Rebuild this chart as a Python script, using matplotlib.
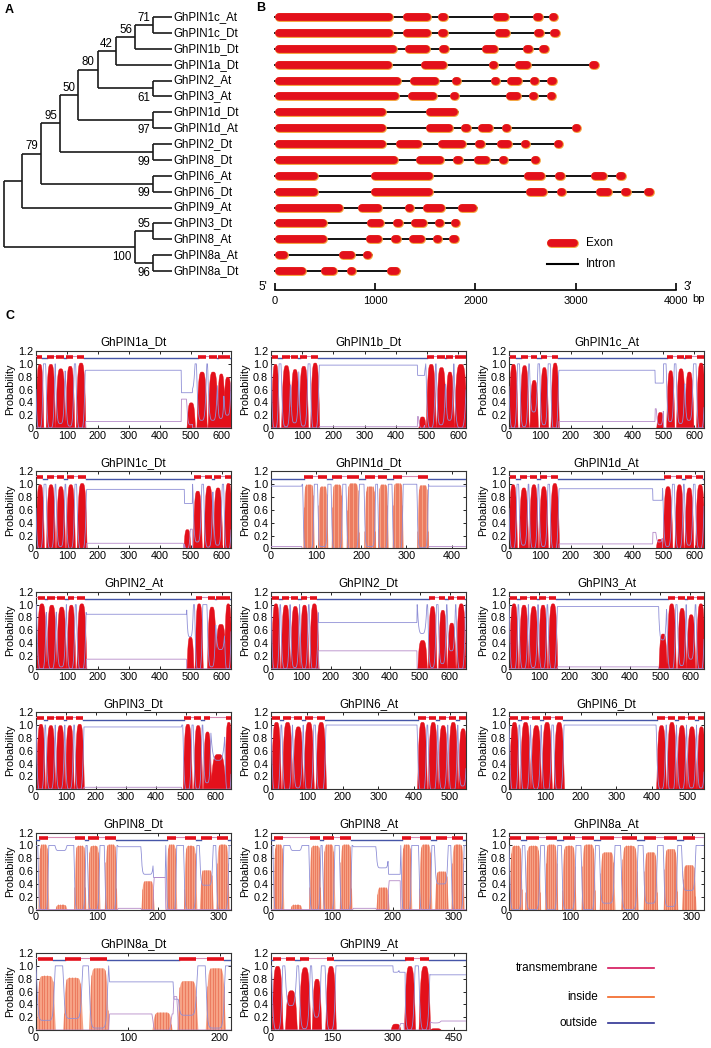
import numpy as np
import matplotlib
matplotlib.use('Agg')
import matplotlib.pyplot as plt
from matplotlib.lines import Line2D

plt.rcParams['font.family'] = ['Liberation Sans', 'DejaVu Sans']

W, H = 711, 1048

# ---------------- panel A: tree ----------------
leaves = ['GhPIN1c_At', 'GhPIN1c_Dt', 'GhPIN1b_Dt', 'GhPIN1a_Dt', 'GhPIN2_At',
          'GhPIN3_At', 'GhPIN1d_Dt', 'GhPIN1d_At', 'GhPIN2_Dt', 'GhPIN8_Dt',
          'GhPIN6_At', 'GhPIN6_Dt', 'GhPIN9_At', 'GhPIN3_Dt', 'GhPIN8_At',
          'GhPIN8a_At', 'GhPIN8a_Dt']
# (name, child1, child2, depth, bootstrap, label side)
nodes = [
    ('n71', 'GhPIN1c_At', 'GhPIN1c_Dt', 153.3, '71', 'above'),
    ('n56', 'n71', 'GhPIN1b_Dt', 135.0, '56', 'above'),
    ('n42', 'n56', 'GhPIN1a_Dt', 116.0, '42', 'above'),
    ('n61', 'GhPIN2_At', 'GhPIN3_At', 153.3, '61', 'below'),
    ('n80', 'n42', 'n61', 97.7, '80', 'above'),
    ('n97', 'GhPIN1d_Dt', 'GhPIN1d_At', 153.3, '97', 'below'),
    ('n50', 'n80', 'n97', 78.3, '50', 'above'),
    ('n99a', 'GhPIN2_Dt', 'GhPIN8_Dt', 153.3, '99', 'below'),
    ('n95a', 'n50', 'n99a', 60.0, '95', 'above'),
    ('n99b', 'GhPIN6_At', 'GhPIN6_Dt', 153.3, '99', 'below'),
    ('n79', 'n95a', 'n99b', 41.0, '79', 'above'),
    ('nG', 'n79', 'GhPIN9_At', 22.3, '', ''),
    ('n95b', 'GhPIN3_Dt', 'GhPIN8_At', 153.3, '95', 'above'),
    ('n96', 'GhPIN8a_At', 'GhPIN8a_Dt', 153.3, '96', 'below'),
    ('n100', 'n95b', 'n96', 135.0, '100', 'below'),
    ('root', 'nG', 'n100', 4.3, '', ''),
]
leaf_depth = 172

# ---------------- panel B: exons in bp, same order as leaves ----------------
exons = [
    [(0, 1181), (1281, 1554), (1634, 1714), (2179, 2332), (2585, 2661), (2751, 2811)],
    [(0, 1181), (1281, 1554), (1634, 1714), (2192, 2345), (2598, 2668), (2764, 2828)],
    [(0, 1214), (1294, 1547), (1643, 1727), (2069, 2222), (2485, 2562), (2652, 2718)],
    [(0, 1168), (1454, 1713), (2139, 2219), (2399, 2558), (3144, 3220)],
    [(0, 1261), (1347, 1640), (1770, 1853), (2169, 2236), (2312, 2465), (2552, 2628), (2731, 2795)],
    [(0, 1238), (1324, 1620), (1750, 1830), (2302, 2459), (2542, 2615), (2725, 2791)],
    [(0, 1105), (1507, 1823)],
    [(0, 1105), (1504, 1772), (1866, 1946), (2023, 2179), (2276, 2346), (2978, 3037)],
    [(0, 1105), (1204, 1471), (1630, 1906), (2006, 2089), (2212, 2365), (2462, 2539), (2795, 2861)],
    [(0, 1231), (1407, 1683), (1783, 1866), (1989, 2146), (2242, 2319), (2565, 2632)],
    [(0, 429), (958, 1574), (2485, 2698), (2801, 2884), (3151, 3310), (3413, 3493)],
    [(0, 429), (958, 1574), (2502, 2711), (2814, 2901), (3204, 3360), (3463, 3543), (3700, 3766)],
    [(0, 675), (832, 1071), (1304, 1384), (1480, 1697), (1830, 2016)],
    [(0, 516), (918, 1088), (1188, 1271), (1357, 1514), (1604, 1677), (1767, 1833)],
    [(0, 516), (905, 1071), (1168, 1248), (1341, 1497), (1584, 1657), (1750, 1817)],
    [(0, 126), (639, 798), (882, 968)],
    [(0, 309), (456, 622), (732, 798), (1118, 1251)],
]
bp_ticks = [0, 1000, 2000, 3000, 4000]

# ---------------- panel C: TMHMM profiles ----------------
titles = ['GhPIN1a_Dt', 'GhPIN1b_Dt', 'GhPIN1c_At', 'GhPIN1c_Dt', 'GhPIN1d_Dt', 'GhPIN1d_At',
          'GhPIN2_At', 'GhPIN2_Dt', 'GhPIN3_At', 'GhPIN3_Dt', 'GhPIN6_At', 'GhPIN6_Dt',
          'GhPIN8_Dt', 'GhPIN8_At', 'GhPIN8a_At', 'GhPIN8a_Dt', 'GhPIN9_At']
lengths = [630, 625, 632, 630, 432, 630, 630, 655, 645, 650, 545, 545, 320, 320, 320, 212, 480]
tick_steps = [100] * 16 + [150]
# helices: (start, end, peak probability, predicted)
tm_segments = [
    [(2, 20, 1.0, 1), (35, 58, 1.0, 1), (66, 91, 0.93, 1), (98, 120, 0.97, 1), (132, 156, 1.02, 1),
     (490, 510, 0.4, 0), (522, 548, 0.88, 1), (558, 584, 0.88, 1), (588, 606, 0.85, 1), (608, 628, 0.8, 1)],
    [(4, 22, 1.0, 1), (36, 60, 0.98, 1), (65, 86, 0.92, 1), (92, 115, 0.97, 1), (129, 151, 1.02, 1),
     (476, 492, 0.18, 0), (500, 524, 1.0, 1), (533, 557, 0.95, 1), (562, 582, 0.88, 1), (590, 624, 1.0, 1)],
    [(2, 24, 1.0, 1), (38, 60, 0.98, 1), (70, 90, 0.75, 1), (103, 123, 0.95, 1), (138, 158, 1.02, 1),
     (481, 497, 0.25, 0), (513, 532, 0.9, 1), (545, 567, 0.93, 1), (572, 594, 0.88, 1), (610, 632, 1.02, 1)],
    [(2, 22, 1.0, 1), (36, 58, 1.0, 1), (68, 90, 0.97, 1), (100, 122, 1.0, 1), (135, 160, 1.02, 1),
     (480, 495, 0.3, 0), (510, 532, 0.9, 1), (545, 568, 0.98, 1), (575, 598, 0.95, 1), (610, 630, 1.02, 1)],
    [(72, 94, 1.0, 1), (105, 124, 0.97, 1), (135, 157, 1.0, 1), (168, 194, 1.02, 1),
     (208, 230, 0.97, 1), (238, 258, 1.0, 1), (270, 291, 1.02, 1), (325, 347, 0.99, 1)],
    [(2, 22, 1.0, 1), (35, 58, 0.95, 1), (68, 90, 1.0, 1), (100, 122, 0.97, 1), (135, 158, 1.02, 1),
     (478, 494, 0.15, 0), (500, 524, 0.97, 1), (538, 560, 1.0, 1), (570, 592, 0.95, 1), (605, 628, 1.0, 1)],
    [(5, 30, 1.02, 1), (37, 62, 1.0, 1), (69, 94, 0.97, 1), (102, 123, 1.0, 1), (134, 159, 1.02, 1),
     (490, 505, 0.5, 0), (516, 535, 1.02, 1), (556, 578, 0.97, 1), (582, 610, 0.7, 1), (611, 628, 1.02, 1)],
    [(4, 26, 1.02, 1), (36, 60, 1.0, 1), (68, 92, 0.98, 1), (100, 122, 1.0, 1), (132, 156, 1.02, 1),
     (495, 520, 0.45, 0), (530, 552, 0.98, 1), (565, 586, 0.92, 1), (595, 616, 0.72, 1), (625, 650, 1.02, 1)],
    [(4, 26, 1.02, 1), (36, 60, 1.0, 1), (68, 92, 0.98, 1), (100, 122, 1.0, 1), (132, 156, 1.02, 1),
     (498, 518, 0.55, 0), (525, 548, 1.02, 1), (560, 582, 0.95, 1), (590, 612, 0.85, 1), (622, 644, 1.02, 1)],
    [(4, 26, 1.02, 1), (36, 60, 1.0, 1), (68, 92, 1.0, 1), (100, 122, 1.0, 1), (132, 156, 1.02, 1),
     (493, 516, 1.02, 1), (528, 550, 1.0, 1), (560, 580, 0.9, 1), (585, 628, 0.55, 0), (632, 650, 1.05, 1)],
    [(4, 24, 1.05, 1), (34, 56, 1.05, 1), (64, 86, 0.98, 1), (94, 116, 1.05, 1), (128, 150, 1.05, 1),
     (412, 432, 1.05, 1), (442, 462, 1.05, 1), (470, 490, 1.0, 1), (498, 518, 1.05, 1), (526, 545, 0.95, 1)],
    [(4, 24, 1.05, 1), (34, 56, 1.05, 1), (64, 86, 1.0, 1), (94, 116, 1.05, 1), (128, 150, 1.05, 1),
     (415, 435, 1.0, 1), (444, 464, 1.05, 1), (472, 492, 1.0, 1), (500, 520, 0.98, 1), (528, 545, 0.98, 1)],
    [(5, 19, 1.02, 1), (33, 49, 0.08, 0), (64, 80, 1.0, 1), (86, 103, 1.0, 1), (114, 131, 1.02, 1),
     (174, 192, 0.45, 0), (215, 229, 1.02, 1), (244, 262, 1.0, 1), (270, 289, 0.62, 1), (297, 315, 1.02, 1)],
    [(5, 19, 1.02, 1), (33, 49, 0.08, 0), (64, 80, 1.0, 1), (86, 103, 1.02, 1), (114, 131, 1.02, 1),
     (174, 192, 0.35, 0), (215, 229, 1.02, 1), (244, 262, 1.02, 1), (270, 289, 0.6, 1), (297, 315, 1.02, 1)],
    [(2, 20, 1.0, 1), (28, 50, 1.0, 1), (60, 78, 1.02, 1), (88, 108, 1.0, 1), (120, 140, 1.02, 1),
     (150, 172, 0.9, 1), (185, 210, 1.0, 1), (222, 242, 0.9, 1), (255, 275, 0.95, 1), (285, 305, 0.7, 1)],
    [(2, 19, 0.85, 1), (31, 49, 0.82, 1), (59, 77, 0.97, 1), (128, 146, 0.28, 0),
     (155, 174, 0.77, 1), (186, 204, 0.97, 1)],
    [(5, 25, 1.0, 1), (38, 60, 0.62, 1), (72, 93, 0.98, 1), (104, 120, 0.8, 0), (137, 156, 1.0, 1),
     (298, 315, 0.1, 0), (331, 351, 1.0, 1), (367, 388, 1.0, 1), (394, 415, 0.03, 0)],
]
# loop pieces where the non-membrane probability stays flat: (start, end, level)
loop_levels = [
    [(160, 470, 0.9), (470, 505, 0.55)],
    [(155, 470, 0.98), (470, 492, 0.82)],
    [(162, 474, 0.9), (474, 500, 0.7)],
    [(164, 480, 0.92), (480, 505, 0.7)],
    [(0, 68, 0.97), (350, 432, 0.97)],
    [(162, 465, 0.93), (465, 495, 0.75)],
    [(163, 486, 0.85)],
    [(160, 490, 0.72)],
    [(160, 495, 0.97)],
    [(160, 485, 0.97)],
    [(155, 405, 1.0)],
    [(155, 408, 1.0)],
    [(135, 172, 0.98), (193, 212, 0.5)],
    [(135, 172, 0.98), (193, 212, 0.55)],
    [],
    [(80, 150, 0.75), (150, 154, 0.48)],
    [(160, 300, 1.0), (316, 330, 0.9), (392, 480, 0.86)],
]
first_out = [False] * 4 + [True] + [False] * 7 + [True, True, False, False, True]
light_fill = [False] * 4 + [True] + [False] * 7 + [True, True, True, True, False]

legend_names = ['transmembrane', 'inside', 'outside']
legend_colors = ['#d4145a', '#f26522', '#2e3192']

RED = '#e3101b'


def px_axes(fig, left, top, width, height):
    return fig.add_axes([left / W, 1 - (top + height) / H, width / W, height / H])


def row_y(px):
    return (px - 17) / 15.88


fig = plt.figure(figsize=(W / 100, H / 100), dpi=100)

# ---------- A ----------
axA = px_axes(fig, 0, 0, 250, 290)
axA.set_xlim(0, 250)
axA.set_ylim(row_y(290), row_y(0))
axA.axis('off')

ypos = {name: float(i) for i, name in enumerate(leaves)}
xpos = {name: leaf_depth for name in leaves}
for name, c1, c2, depth, lab, side in nodes:
    ypos[name] = (ypos[c1] + ypos[c2]) / 2
    xpos[name] = depth
for name, c1, c2, depth, lab, side in nodes:
    axA.plot([depth, depth], [ypos[c1], ypos[c2]], color='#1a1a1a', lw=1.2, solid_capstyle='butt')
    for c in (c1, c2):
        axA.plot([depth, xpos[c]], [ypos[c], ypos[c]], color='#1a1a1a', lw=1.2, solid_capstyle='butt')
    if lab:
        dy = -0.45 if side == 'above' else 0.6
        axA.text(depth - 3, ypos[name] + dy, lab, ha='right', va='center', fontsize=8.3)
for i, name in enumerate(leaves):
    axA.text(leaf_depth + 1, i, name, ha='left', va='center', fontsize=8.3)
fig.text(5 / W, 1 - 10 / H, 'A', fontsize=9, fontweight='bold', va='center')

# ---------- B ----------
axB = px_axes(fig, 255, 0, 456, 310)
axB.set_xlim((255 - 275) * 9.98, (711 - 275) * 9.98)
axB.set_ylim(row_y(310), row_y(0))
cap = 40
for i, gene in enumerate(exons):
    axB.plot([gene[0][0], gene[-1][1]], [i, i], color='black', lw=1.3, zorder=1)
    for s, e in gene:
        a, b = s + cap, e - cap
        if b - a < 15:
            a, b = (s + e) / 2 - 8, (s + e) / 2 + 8
        axB.plot([a, b], [i, i], color='#f4a23a', lw=6.4, solid_capstyle='round', zorder=2)
        axB.plot([a, b], [i, i], color=RED, lw=5.6, solid_capstyle='round', zorder=3)
# legend
ly1, ly2 = row_y(243), row_y(264)
axB.plot([2715 + cap, 3025 - cap], [ly1, ly1], color='#f4a23a', lw=6.4, solid_capstyle='round')
axB.plot([2715 + cap, 3025 - cap], [ly1, ly1], color=RED, lw=5.6, solid_capstyle='round')
axB.plot([2715, 3025], [ly2, ly2], color='black', lw=1.5)
axB.text(3100, ly1, 'Exon', va='center', fontsize=8.5)
axB.text(3100, ly2, 'Intron', va='center', fontsize=8.5)
for sp in ['top', 'left', 'right']:
    axB.spines[sp].set_visible(False)
axB.spines['bottom'].set_position(('data', row_y(290)))
axB.spines['bottom'].set_bounds(0, 4000)
axB.spines['bottom'].set_linewidth(1.2)
axB.set_yticks([])
axB.set_xticks(bp_ticks)
axB.tick_params(axis='x', direction='in', length=5, width=1.2, labelsize=8, pad=4)
axB.text(-120, row_y(287), "5'", ha='center', va='center', fontsize=8.5)
axB.text(4120, row_y(287), "3'", ha='center', va='center', fontsize=8.5)
axB.text(4230, row_y(298.5), 'bp', ha='center', va='center', fontsize=8)
fig.text(256 / W, 1 - 8 / H, 'B', fontsize=9, fontweight='bold', va='center')

# ---------- C ----------
fig.text(5 / W, 1 - 316 / H, 'C', fontsize=9, fontweight='bold', va='center')
col_left = [36, 271, 509]
yt = [0, 0.2, 0.4, 0.6, 0.8, 1.0, 1.2]
for k, title in enumerate(titles):
    r, c = divmod(k, 3)
    ax = px_axes(fig, col_left[c], 351 + 120.4 * r, 195, 77)
    L = lengths[k]
    x = np.arange(0, L + 1)
    tm = np.zeros(len(x))
    power = 8 if light_fill[k] else 4
    widen = 1.5 if light_fill[k] else 3.5
    for s, e, h, p in tm_segments[k]:
        cen, hw = (s + e) / 2, (e - s) / 2 + widen
        tm = np.maximum(tm, h * np.clip(1 - np.abs((x - cen) / hw) ** power, 0, None))
    upper = 1 - np.minimum(tm, 1)
    for s, e, lvl in loop_levels[k]:
        m = (x >= s) & (x <= e)
        upper[m] = lvl
    lower = np.clip(1 - upper - tm, 0, 1)

    if light_fill[k]:
        ax.fill_between(x, 0, tm, color='#f6a386', lw=0, zorder=2)
        xs = x[::3]
        ts = tm[::3]
        m = ts > 0.02
        ax.vlines(xs[m], 0, ts[m], color='#e0472c', lw=0.5, alpha=0.6, zorder=2)
    else:
        ax.fill_between(x, 0, tm, color=RED, lw=0.3, edgecolor=RED, zorder=2)
    ax.plot(x, upper, color='#8f8fd6', lw=0.6, zorder=3)
    ax.plot(x, lower, color='#b58ac8', lw=0.6, zorder=3)

    # topology strip
    pred = sorted((s, e) for s, e, h, p in tm_segments[k] if p)
    prev = 0
    regions = []
    for s, e in pred:
        regions.append((prev, s))
        prev = e
    regions.append((prev, L))
    for j, (a, b) in enumerate(regions):
        outside = (j % 2 == 0) == first_out[k]
        if outside:
            ax.plot([a, b], [1.085, 1.085], color='#4656a8', lw=1.0, zorder=4)
        else:
            ax.plot([a, b], [1.125, 1.125], color='#d68cb4', lw=0.8, zorder=4)
    for s, e in pred:
        ax.plot([s, e], [1.11, 1.11], color=RED, lw=2.6, solid_capstyle='butt', zorder=5)

    ax.set_xlim(0, L)
    ax.set_ylim(0, 1.2)
    ax.set_xticks(np.arange(0, L + 1, tick_steps[k]))
    ax.set_yticks(yt)
    ax.set_yticklabels(['0' if v == 0 else f'{v:.1f}' for v in yt])
    ax.tick_params(direction='in', top=True, right=True, length=2.5, width=0.6,
                   labelsize=7.8, pad=2)
    ax.set_ylabel('Probability', fontsize=7.8, labelpad=2)
    ax.set_title(title, fontsize=8.4, pad=4)
    for sp in ax.spines.values():
        sp.set_linewidth(0.8)
        sp.set_color('#333333')

# legend for C
for j, (name, col) in enumerate(zip(legend_names, legend_colors)):
    y = 1 - [968, 997, 1023][j] / H
    fig.text(598 / W, y, name, ha='right', va='center', fontsize=8.5)
    fig.add_artist(Line2D([608 / W, 654 / W], [y, y], color=col, lw=1.2))

fig.savefig('out.png', dpi=100)
